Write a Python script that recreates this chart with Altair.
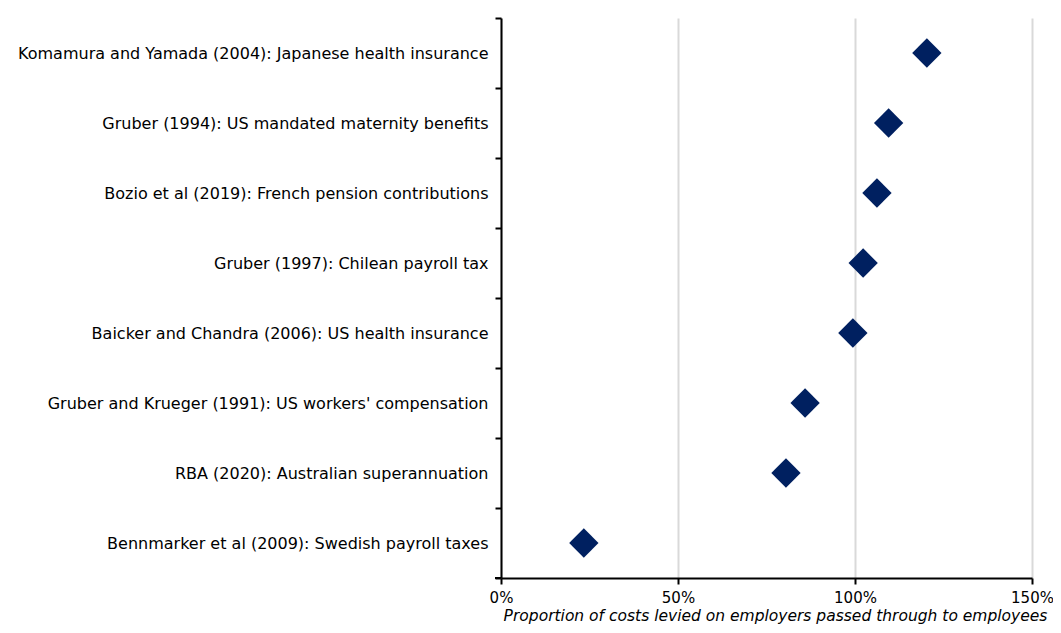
import altair as alt
import pandas as pd

studies = [
    "Komamura and Yamada (2004): Japanese health insurance",
    "Gruber (1994): US mandated maternity benefits",
    "Bozio et al (2019): French pension contributions",
    "Gruber (1997): Chilean payroll tax",
    "Baicker and Chandra (2006): US health insurance",
    "Gruber and Krueger (1991): US workers' compensation",
    "RBA (2020): Australian superannuation",
    "Bennmarker et al (2009): Swedish payroll taxes",
]
pass_through = [1.203, 1.095, 1.062, 1.023, 0.994, 0.859, 0.805, 0.234]

df = pd.DataFrame({"study": studies, "value": pass_through})

FONT = "DejaVu Sans"
W, H = 531, 560

points = alt.Chart(df).mark_point(
    shape="diamond", filled=True, size=860, color="#002060", opacity=1
).encode(
    x=alt.X(
        "value:Q",
        scale=alt.Scale(domain=[0, 1.5], nice=False),
        axis=alt.Axis(
            values=[0, 0.5, 1.0, 1.5],
            format=".0%",
            title="Proportion of costs levied on employers passed through to employees",
            titleFont=FONT,
            titleFontSize=15.5,
            titleFontStyle="italic",
            titleFontWeight="normal",
            titleColor="#000000",
            titlePadding=3,
            titleX=274,
            labelFont=FONT,
            labelFontSize=15,
            labelColor="#000000",
            labelPadding=6,
            labelFlush=False,
            domainColor="#000000",
            domainWidth=2,
            tickColor="#000000",
            tickWidth=2,
            tickSize=6,
            grid=True,
            gridColor="#d9d9d9",
            gridWidth=2,
        ),
    ),
    y=alt.Y(
        "study:N",
        sort=studies,
        scale=alt.Scale(paddingInner=0, paddingOuter=0),
        axis=alt.Axis(
            title=None,
            labelFont=FONT,
            labelFontSize=16,
            labelColor="#000000",
            labelPadding=7,
            labelLimit=600,
            domainColor="#000000",
            domainWidth=2,
            tickColor="#000000",
            tickWidth=2,
            tickSize=6,
            tickBand="extent",
            grid=False,
        ),
    ),
)

bottom_tick = alt.Chart(df).mark_rule(color="#000000", strokeWidth=2).encode(
    x=alt.value(-6), x2=alt.value(0), y=alt.value(H)
)

chart = alt.layer(points, bottom_tick).properties(
    width=W,
    height=H,
    autosize=alt.AutoSizeParams(type="none"),
    padding={"left": 493, "top": 10, "right": 21, "bottom": 47},
).configure(background="#ffffff").configure_view(stroke=None)

chart.save("out.html", embed_options={"renderer": "svg", "actions": False})
